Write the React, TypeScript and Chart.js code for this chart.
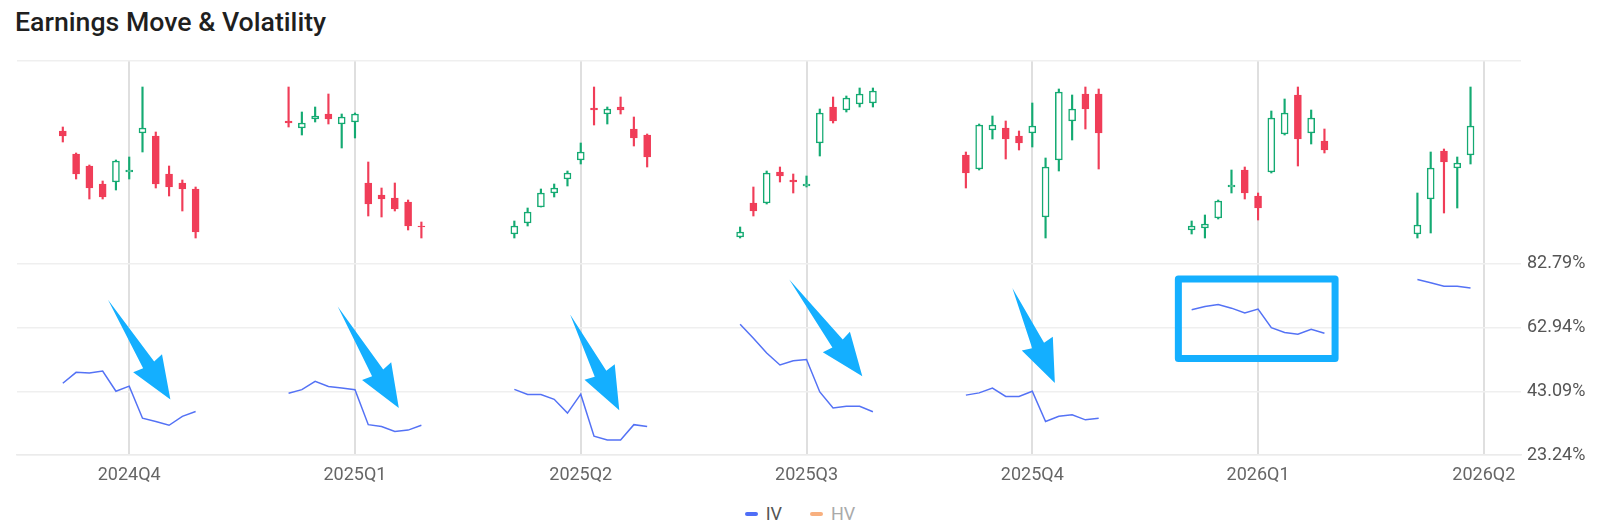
import React, { useRef, useEffect } from 'react';
import Chart from 'chart.js/auto';

// quarters on the time axis, one earnings event per quarter
const QUARTERS = ['2024Q4', '2025Q1', '2025Q2', '2025Q3', '2025Q4', '2026Q1', '2026Q2'];
const SLOTS_PER_QUARTER = 17; // sessions between two quarter marks
const FIRST_OFFSET = -5;      // first candle of each group, relative to the quarter mark

// candles around each earnings date: [open, high, low, close] (relative price units)
const CANDLES_2024Q4 = [
  [133, 137, 122, 128], [110, 111, 85, 90], [98, 99, 65, 76], [80, 83, 65, 67],
  [82, 104, 74, 103], [92, 107, 85, 94], [131, 177, 112, 136], [128, 132, 76, 80],
  [90, 98, 68, 77], [81, 84, 53, 75], [75, 77, 26, 32],
];
const CANDLES_2025Q1 = [
  [143, 177, 137, 141], [136, 152, 129, 141], [145, 157, 142, 148], [150, 170, 140, 145],
  [140, 150, 116, 147], [142, 151, 126, 150], [81, 102, 48, 60], [69, 76, 47, 65],
  [66, 81, 53, 55], [62, 64, 34, 38], [38, 42, 26, 37],
];
const CANDLES_2025Q2 = [
  [30, 43, 26, 38], [41, 56, 38, 52], [57, 75, 57, 71], [71, 80, 67, 76],
  [85, 93, 78, 91], [104, 121, 100, 112], [156, 177, 139, 154], [150, 157, 140, 155],
  [157, 167, 150, 154], [135, 147, 118, 126], [129, 130, 97, 107],
];
const CANDLES_2025Q3 = [
  [27, 37, 26, 32], [61, 77, 48, 53], [61, 93, 60, 91], [92, 97, 82, 88],
  [84, 90, 71, 82], [78, 88, 77, 80], [121, 155, 108, 151], [157, 167, 141, 143],
  [154, 168, 152, 166], [160, 176, 157, 170], [161, 176, 157, 173],
];
const CANDLES_2025Q4 = [
  [109, 112, 76, 91], [95, 140, 94, 139], [134, 148, 125, 139], [136, 143, 105, 125],
  [128, 133, 114, 121], [131, 161, 117, 138], [47, 106, 26, 97], [104, 175, 93, 172],
  [143, 169, 124, 155], [170, 177, 135, 155], [170, 175, 95, 131],
];
const CANDLES_2026Q1 = [
  [34, 43, 30, 38], [36, 49, 26, 40], [46, 64, 45, 63], [77, 94, 71, 79],
  [94, 97, 65, 71], [68, 71, 44, 56], [92, 153, 91, 146], [130, 165, 129, 151],
  [169, 177, 98, 125], [131, 154, 120, 146], [123, 135, 111, 114],
];
const CANDLES_2026Q2 = [
  [30, 71, 26, 39], [65, 112, 31, 96], [113, 115, 51, 102], [96, 107, 56, 101],
  [109, 177, 100, 138],
];
const CANDLES = [
  CANDLES_2024Q4, CANDLES_2025Q1, CANDLES_2025Q2, CANDLES_2025Q3,
  CANDLES_2025Q4, CANDLES_2026Q1, CANDLES_2026Q2,
];

// implied volatility (%) for the same sessions
const IV_2024Q4 = [45.6, 49.0, 48.8, 49.4, 43.1, 44.7, 34.7, 33.7, 32.5, 35.3, 36.8];
const IV_2025Q1 = [42.5, 43.6, 46.2, 44.6, 44.1, 43.6, 32.7, 32.1, 30.6, 31.0, 32.5];
const IV_2025Q2 = [43.7, 42.1, 42.1, 40.6, 36.3, 42.2, 29.1, 27.9, 27.9, 32.7, 32.1];
const IV_2025Q3 = [64.0, 59.6, 55.0, 51.3, 52.6, 53.0, 42.9, 37.9, 38.4, 38.4, 36.7];
const IV_2025Q4 = [41.9, 42.6, 44.1, 41.5, 41.5, 43.1, 33.7, 35.3, 35.8, 34.2, 34.7];
const IV_2026Q1 = [68.5, 69.5, 70.1, 69.0, 67.5, 68.7, 62.9, 61.4, 60.9, 62.4, 61.2];
const IV_2026Q2 = [77.9, 76.9, 75.8, 75.8, 75.3];
const IV = [IV_2024Q4, IV_2025Q1, IV_2025Q2, IV_2025Q3, IV_2025Q4, IV_2026Q1, IV_2026Q2];

const IV_TICKS = [23.24, 43.09, 62.94, 82.79];
const IV_MAX = 146.02; // top of the plot, the IV panel only uses the lower half

// hand-drawn markup: [tailX, tailIV, tipX, tipIV] and the highlight box [x0, iv0, x1, iv1]
const ARROWS = [
  [-1.6, 71.6, 3.1, 40.5],
  [15.7, 69.5, 20.3, 37.9],
  [33.2, 67.0, 36.9, 37.2],
  [49.7, 77.9, 55.2, 47.8],
  [66.5, 75.3, 69.7, 45.7],
];
const HIGHLIGHT = [79.0, 78.1, 90.8, 53.3];

const LEGEND_NAMES = ['IV', 'HV'];
const LEGEND_COLORS = ['#4f6ef7', '#f8b07f'];
const LEGEND_TEXT = ['#555555', '#aaaaaa'];

const RED = '#f03d58';
const GREEN = '#14aa72';
const IV_COLOR = '#5472f5';
const MARK = '#14afff';

const markup = {
  id: 'markup',
  afterDatasetsDraw(chart: any) {
    const { ctx, scales } = chart;
    const x = scales.x;
    const y = scales.y;
    ctx.save();
    ctx.fillStyle = MARK;
    ctx.strokeStyle = MARK;
    ARROWS.forEach(([tx, ty, px, py]) => {
      const ax = x.getPixelForValue(tx);
      const ay = y.getPixelForValue(ty);
      const bx = x.getPixelForValue(px);
      const by = y.getPixelForValue(py);
      const len = Math.hypot(bx - ax, by - ay);
      const ux = (bx - ax) / len;
      const uy = (by - ay) / len;
      const nx = -uy;
      const ny = ux;
      const at = (back: number, side: number) => [bx - ux * back + nx * side, by - uy * back + ny * side];
      const pts = [[ax, ay], at(41, 6.5), at(43, 17), [bx, by], at(43, -17), at(41, -6.5)];
      ctx.beginPath();
      pts.forEach(([px2, py2], i) => (i ? ctx.lineTo(px2, py2) : ctx.moveTo(px2, py2)));
      ctx.closePath();
      ctx.fill();
    });
    const [x0, v0, x1, v1] = HIGHLIGHT;
    const rx = x.getPixelForValue(x0);
    const ry = y.getPixelForValue(v0);
    ctx.lineWidth = 7;
    ctx.lineJoin = 'round';
    ctx.strokeRect(rx, ry, x.getPixelForValue(x1) - rx, y.getPixelForValue(v1) - ry);
    ctx.restore();
  },
};

const App: React.FC = () => {
  const chartRef = useRef<HTMLCanvasElement | null>(null);

  useEffect(() => {
    if (!chartRef.current) return;
    const ctx = chartRef.current.getContext('2d');
    if (!ctx) return;

    const candles = CANDLES.flatMap((group, q) =>
      group.map(([o, h, l, c], i) => ({
        x: q * SLOTS_PER_QUARTER + FIRST_OFFSET + i, o, h, l, c,
      })),
    );
    const up = candles.map((p) => p.c >= p.o);

    const ivData: { x: number; y: number | null }[] = [];
    IV.forEach((group, q) => {
      group.forEach((v, i) => ivData.push({ x: q * SLOTS_PER_QUARTER + FIRST_OFFSET + i, y: v }));
      ivData.push({ x: q * SLOTS_PER_QUARTER + 8, y: null });
    });

    const tickFont = { family: 'Roboto', size: 18 };

    const chart = new Chart(ctx, {
      type: 'bar',
      data: {
        datasets: [
          {
            type: 'line',
            label: 'IV',
            data: ivData,
            yAxisID: 'y',
            borderColor: IV_COLOR,
            borderWidth: 1.5,
            pointRadius: 0,
            tension: 0,
            spanGaps: false,
          },
          {
            label: 'body',
            data: candles.map((p) => ({ x: p.x, y: [p.o, p.c] })),
            yAxisID: 'yc',
            grouped: false,
            barThickness: 7,
            borderWidth: 1.5,
            borderSkipped: false,
            backgroundColor: up.map((u) => (u ? '#ffffff' : RED)),
            borderColor: up.map((u) => (u ? GREEN : RED)),
          },
          {
            label: 'wick',
            data: candles.map((p) => ({ x: p.x, y: [p.l, p.h] })),
            yAxisID: 'yc',
            grouped: false,
            barThickness: 1.5,
            borderWidth: 0,
            backgroundColor: up.map((u) => (u ? GREEN : RED)),
          },
        ],
      } as any,
      options: {
        animation: false,
        responsive: true,
        maintainAspectRatio: false,
        layout: { padding: { top: 25, left: 9, right: 0, bottom: 0 } },
        plugins: {
          legend: { display: false },
          tooltip: { enabled: false },
        },
        scales: {
          x: {
            type: 'linear',
            min: -8.45,
            max: 104.8,
            offset: false,
            grid: { offset: false, color: '#dfdfdf', lineWidth: 2, drawTicks: false },
            border: { display: true, color: '#ebebeb', width: 1.5 },
            ticks: {
              autoSkip: false,
              maxRotation: 0,
              padding: 10,
              color: '#666666',
              font: tickFont,
              callback: (v: any) => QUARTERS[Math.round(Number(v) / SLOTS_PER_QUARTER)],
            },
            afterBuildTicks: (s: any) => {
              s.ticks = QUARTERS.map((_, i) => ({ value: i * SLOTS_PER_QUARTER }));
            },
            afterFit: (s: any) => {
              s.height = 37;
            },
          },
          y: {
            type: 'linear',
            position: 'right',
            min: IV_TICKS[0],
            max: IV_MAX,
            grid: { color: '#efefef', lineWidth: 1.5, drawTicks: false },
            border: { display: false },
            ticks: {
              padding: 6,
              color: '#555555',
              font: tickFont,
              callback: (v: any) => (IV_TICKS.includes(Number(v)) ? Number(v).toFixed(2) + '%' : ''),
            },
            afterBuildTicks: (s: any) => {
              s.ticks = [...IV_TICKS, IV_MAX].map((v) => ({ value: v }));
            },
            afterFit: (s: any) => {
              s.width = 71;
            },
          },
          yc: { type: 'linear', display: false, min: -191, max: 203 },
        },
      } as any,
      plugins: [markup],
    });

    return () => {
      chart.destroy();
    };
  }, []);

  return (
    <div style={{ position: 'relative', height: 514, fontFamily: 'Roboto, sans-serif' }}>
      <div style={{ fontSize: 26.7, fontWeight: 500, lineHeight: '28px', paddingLeft: 7, color: '#1f1f1f' }}>
        Earnings Move &amp; Volatility
      </div>
      <div style={{ position: 'absolute', top: 28, left: 0, right: 0, height: 456 }}>
        <canvas ref={chartRef} />
      </div>
      <div
        style={{
          position: 'absolute', top: 496, left: 0, right: 0, height: 20,
          display: 'flex', justifyContent: 'center', alignItems: 'center', gap: 28,
          fontSize: 18, lineHeight: '20px',
        }}
      >
        {LEGEND_NAMES.map((name, i) => (
          <div key={name} style={{ display: 'flex', alignItems: 'center', gap: 8, color: LEGEND_TEXT[i] }}>
            <span style={{ width: 13, height: 4, borderRadius: 2, background: LEGEND_COLORS[i] }} />
            <span>{name}</span>
          </div>
        ))}
      </div>
    </div>
  );
};

export default App;
